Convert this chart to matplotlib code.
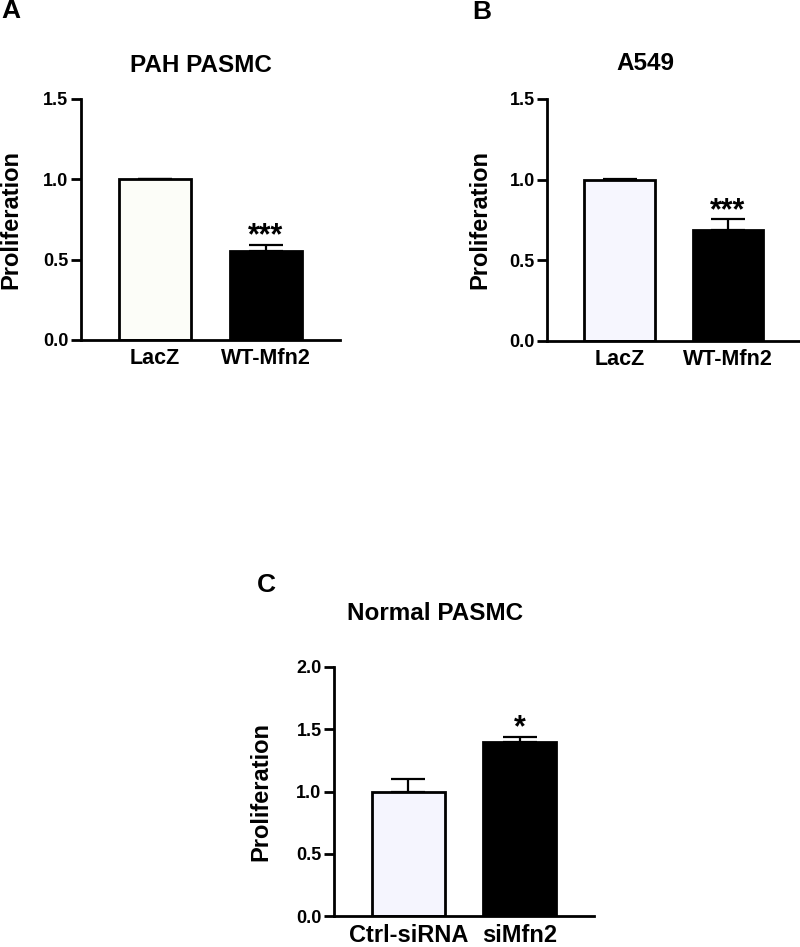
import numpy as np
import matplotlib.pyplot as plt

plt.rcParams['font.family'] = ['Liberation Sans', 'DejaVu Sans']
plt.rcParams['font.weight'] = 'bold'

# panel A
a_groups = ['LacZ', 'WT-Mfn2']
a_means = [1.0, 0.553]
a_errs = [0.003, 0.04]
# panel B
b_groups = ['LacZ', 'WT-Mfn2']
b_means = [1.0, 0.685]
b_errs = [0.003, 0.07]
# panel C
c_groups = ['Ctrl-siRNA', 'siMfn2']
c_means = [1.0, 1.395]
c_errs = [0.1, 0.045]

fig = plt.figure(figsize=(8, 9.47), dpi=100)


def bar_panel(rect, groups, means, errs, colors, ylim, yticks, stars, star_idx,
              tick_fs, label_x):
    ax = fig.add_axes(rect)
    x = np.arange(len(groups))
    ax.bar(x, means, width=0.65, color=colors, edgecolor='black', linewidth=2, zorder=2)
    ax.errorbar(x, means, yerr=[np.zeros(len(errs)), errs], fmt='none',
                ecolor='black', elinewidth=1.6, capsize=12, capthick=1.6, zorder=1)
    ax.set_xlim(-0.67, 1.67)
    ax.set_ylim(*ylim)
    ax.set_yticks(yticks)
    ax.set_yticklabels(['%.1f' % t for t in yticks], fontsize=13, fontweight='bold')
    ax.set_xticks(x)
    ax.set_xticklabels(groups, fontsize=tick_fs, fontweight='bold')
    ax.tick_params(axis='x', length=0, pad=6)
    ax.tick_params(axis='y', length=7, width=2, pad=2)
    for s in ['top', 'right']:
        ax.spines[s].set_visible(False)
    for s in ['left', 'bottom']:
        ax.spines[s].set_linewidth(2)
    ax.spines['left'].set_zorder(3)
    ax.set_ylabel('Proliferation', fontsize=17, fontweight='bold')
    ax.yaxis.set_label_coords(label_x, 0.5)
    i = star_idx
    ax.annotate(stars, (x[i], means[i] + errs[i]), xytext=(0, -5), textcoords='offset points',
                ha='center', va='bottom', fontsize=22, fontweight='bold')
    return ax


ax_a = bar_panel([0.101, 0.641, 0.324, 0.2545], a_groups, a_means, a_errs,
                 ['#fcfdf8', 'black'], (0, 1.5), [0, 0.5, 1.0, 1.5], '***', 1, 15.5, -0.226)
ax_b = bar_panel([0.684, 0.640, 0.316, 0.2555], b_groups, b_means, b_errs,
                 ['#f6f6fe', 'black'], (0, 1.5), [0, 0.5, 1.0, 1.5], '***', 1, 15.5, -0.221)
ax_c = bar_panel([0.4175, 0.0327, 0.325, 0.263], c_groups, c_means, c_errs,
                 ['#f5f5fe', 'black'], (0, 2.0), [0, 0.5, 1.0, 1.5, 2.0], '*', 1, 17, -0.238)

fig.text(201 / 800, 1 - 65 / 947, 'PAH PASMC', ha='center', va='center', fontsize=17.5, fontweight='bold')
fig.text(645 / 800, 1 - 63 / 947, 'A549', ha='center', va='center', fontsize=17.5, fontweight='bold')
fig.text(435 / 800, 1 - 613 / 947, 'Normal PASMC', ha='center', va='center', fontsize=17.5, fontweight='bold')

fig.text(11 / 800, 1 - 11 / 947, 'A', ha='center', va='center', fontsize=19, fontweight='bold')
fig.text(482 / 800, 1 - 12 / 947, 'B', ha='center', va='center', fontsize=19, fontweight='bold')
fig.text(266 / 800, 1 - 585 / 947, 'C', ha='center', va='center', fontsize=19, fontweight='bold')

fig.savefig('out.png', dpi=100, facecolor='white')
